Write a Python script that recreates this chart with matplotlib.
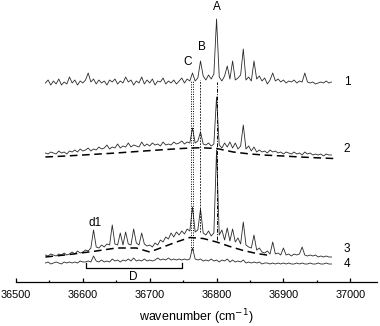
import numpy as np
import matplotlib
matplotlib.use("Agg")
import matplotlib.pyplot as plt
from matplotlib.ticker import MultipleLocator

plt.rcParams["font.family"] = ["Liberation Sans", "DejaVu Sans"]

# wavenumber grid of the recorded spectra (cm-1)
wn = np.arange(36544, 36976, 4)

# spectrum 1
trace1 = [0, 3, -2, 2, -1, 4, -2, 1, -1, 6, 0, 3, -2, 2, 0, 3, 10, 1, 4, -1,
          3, 0, 2, -2, 3, 1, 4, -1, 2, 0, 6, 1, 3, -2, 2, 0, 6, -1, 3, 0,
          4, -2, 2, 1, 5, -1, 2, 0, 3, -1, 2, 5, 0, 4, 2, 10, 2, 5, 22, 7,
          3, 8, 4, 9, 64, 6, 2, 7, 17, 4, 22, 3, 5, 8, 34, 3, 6, 2, 22, 4,
          7, 2, 5, -1, 3, 10, 2, 4, 1, 3, 0, 2, 1, 3, 0, 2, 1, 10, 1, 0,
          1, -1, 0, 1, 0, 2, 0, 1]

# spectrum 2
trace2 = [4, 3, 5, 4, 3, 6, 4, 5, 3, 6, 5, 7, 5, 8, 6, 7, 9, 6, 8, 7,
          10, 8, 9, 12, 8, 10, 9, 13, 9, 11, 10, 14, 10, 12, 11, 10, 15, 11, 13, 11,
          14, 12, 13, 11, 15, 12, 13, 12, 15, 13, 14, 16, 13, 15, 14, 29, 14, 16, 25, 13,
          12, 14, 11, 13, 60, 12, 9, 14, 10, 15, 9, 14, 8, 11, 32, 8, 11, 6, 10, 5,
          7, 5, 6, 4, 7, 5, 6, 4, 5, 3, 5, 4, 3, 5, 3, 4, 2, 5, 3, 4,
          2, 3, 2, 3, 1, 3, 2, 2]

# spectrum 3
trace3 = [2, 1, 3, 2, 1, 3, 2, 4, 2, 3, 5, 3, 6, 4, 5, 7, 6, 9, 27, 10,
          9, 12, 10, 13, 12, 32, 13, 12, 24, 12, 25, 13, 12, 28, 14, 12, 24, 13, 11, 12,
          10, 14, 12, 17, 15, 20, 18, 24, 20, 25, 22, 26, 23, 28, 26, 50, 25, 27, 48, 24,
          22, 26, 21, 24, 107, 22, 27, 17, 29, 16, 28, 15, 19, 13, 35, 12, 10, 9, 22, 7,
          9, 5, 4, 6, 3, 15, 3, 4, 2, 9, 2, 3, 1, 3, 2, 3, 10, 2, 1, 2,
          1, 2, 0, 1, 0, 1, 0, 0]

# spectrum 4
trace4 = [0, 1, -1, 0, 1, 0, -1, 1, 0, 1, 0, 1, 0, 2, 1, 1, 2, 1, 7, 2,
          1, 3, 1, 2, 1, 4, 2, 3, 1, 3, 2, 4, 2, 5, 2, 3, 2, 4, 2, 3,
          2, 3, 5, 3, 4, 3, 5, 3, 4, 3, 4, 3, 4, 3, 4, 15, 4, 3, 4, 2,
          3, 2, 4, 2, 3, 1, 3, 2, 4, 1, 3, 1, 2, 1, 3, 0, 1, 0, 1, 0,
          1, -1, 0, 0, -1, 0, -1, 0, -1, 0, -1, 0, -1, -1, 0, -1, 0, -1, -1, 0,
          -1, -1, 0, -1, -1, 0, -1, -1]

# fitted backgrounds (dashed)
bg2_wn = [36544, 36575, 36600, 36625, 36650, 36675, 36700, 36725, 36750,
          36775, 36800, 36825, 36850, 36875, 36900, 36925, 36950, 36975]
bg2 = [0, 1, 2, 3, 4, 5.2, 6.4, 7.5, 8.6, 9.3, 8.5, 5, 3, 1.8, 1, 0, -0.8, -1.5]
bg3_wn = [36544, 36580, 36620, 36650, 36680, 36700, 36720, 36740, 36760,
          36780, 36800, 36820, 36840, 36860, 36880]
bg3 = [0, 2.5, 6, 9, 9, 5, 10, 15, 19.5, 18.5, 15, 10.5, 6.5, 3.5, 1.5]

# vertical stacking of the traces
offsets = [199, 125, 25, 19]
labels = ["1", "2", "3", "4"]

# band positions
band_A = 36800
band_B = 36775
band_C = [36762, 36765.5]
region_D = [36605, 36748]

fig = plt.figure(figsize=(3.8, 3.26), dpi=100)
ax = fig.add_axes([16 / 380, 44 / 326, 361 / 380, 282 / 326])

lc = "#2a2a2a"
for tr, off in zip([trace1, trace2, trace3, trace4], offsets):
    ax.plot(wn, np.array(tr) + off, color=lc, lw=0.6)

ax.plot(bg2_wn, np.array(bg2) + offsets[1], color="black", lw=1.1, ls=(0, (5, 3)))
ax.plot(bg3_wn, np.array(bg3) + offsets[2], color="black", lw=1.1, ls=(0, (5, 3)))

# guide lines through bands
for xc in band_C:
    ax.plot([xc, xc], [32, 202], color="black", lw=0.7, ls=(0, (1, 1.5)))
ax.plot([band_B, band_B], [50, 202], color="black", lw=0.6, ls=(0, (2, 1.5)))
ax.plot([band_A, band_A], [42, 200], color="black", lw=0.7, ls=(0, (4, 1.5, 1, 1.5)))

# region D bracket
ax.plot([region_D[0], region_D[0], region_D[1], region_D[1]], [19, 14, 14, 19],
        color="black", lw=0.9)

fs = 8.5
ax.text(36800, 275, "A", ha="center", va="center", fontsize=fs)
ax.text(36778, 235, "B", ha="center", va="center", fontsize=fs)
ax.text(36757, 220, "C", ha="center", va="center", fontsize=fs)
ax.text(36618, 59, "d1", ha="center", va="center", fontsize=fs)
ax.text(36675, 5, "D", ha="center", va="center", fontsize=fs)
for lab, yy in zip(labels, [200, 133, 33, 18]):
    ax.text(36995, yy, lab, ha="center", va="center", fontsize=fs)

ax.set_xlim(36500, 37040)
ax.set_ylim(0, 282)
for s in ["top", "right", "left"]:
    ax.spines[s].set_visible(False)
ax.spines["bottom"].set_linewidth(0.9)
ax.set_yticks([])
ax.set_xticks([36500, 36600, 36700, 36800, 36900, 37000])
ax.xaxis.set_minor_locator(MultipleLocator(50))
ax.tick_params(axis="x", which="major", direction="in", length=2.6, width=0.9,
               labelsize=7.8, pad=6)
ax.tick_params(axis="x", which="minor", direction="in", length=1.8, width=0.9)
ax.set_xlabel("wavenumber (cm$^{-1}$)", fontsize=9, labelpad=5)

fig.savefig("out.png", dpi=100)
